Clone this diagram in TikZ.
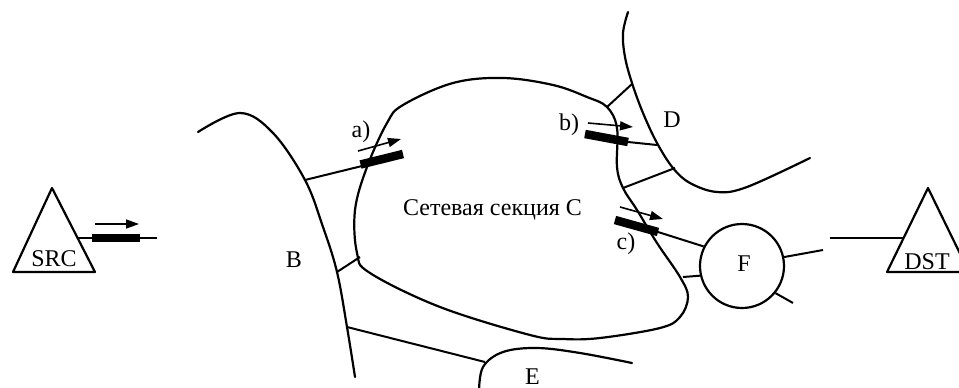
\documentclass[tikz,border=0pt]{standalone}
\usepackage{fontspec}
\setmainfont{Liberation Serif}
\usetikzlibrary{arrows.meta}
\begin{document}
\begin{tikzpicture}[x=1pt,y=-1pt,
  curve/.style={line width=2.2pt, line cap=round, line join=round},
  link/.style={line width=2pt},
  bar/.style={line width=8.5pt},
  flow/.style={line width=1.6pt, -{Triangle[length=13pt,width=9pt]}},
  lbl/.style={font=\fontsize{24}{26}\selectfont, inner sep=0pt, anchor=base},
]
\useasboundingbox (0,0) rectangle (959,388);

% SRC
\coordinate (srcA) at (52,188);
\coordinate (srcL) at (13,272);
\coordinate (srcR) at (95,272);
\draw[curve] (srcA) -- (srcL) -- (srcR) -- cycle;
\node[lbl] (src) at (54,266) {SRC};
\coordinate (s1) at (78,238);
\coordinate (s2) at (157,238);
\coordinate (sb1) at (92,238);
\coordinate (sb2) at (140,238);
\draw[link] (s1) -- (s2);
\draw[bar] (sb1) -- (sb2);
\coordinate (sa1) at (95,224);
\coordinate (sa2) at (139,224);
\draw[flow] (sa1) -- (sa2);

% DST
\coordinate (dstA) at (928,188);
\coordinate (dstL) at (887,272);
\coordinate (dstR) at (969,272);
\draw[curve] (dstA) -- (dstL) -- (dstR) -- cycle;
\node[lbl] (dst) at (927,269) {DST};
\coordinate (d1) at (830,238);
\coordinate (d2) at (903.6,238);
\draw[link] (d1) -- (d2);

% B
\draw[curve] plot[smooth, tension=0.6] coordinates {(198,132) (240,113) (273,133) (305,180) (323,227) (337,272) (347,327) (355,377)};
\node[lbl] (B) at (294,267) {B};

% C
\draw[curve] plot[smooth cycle, tension=0.6] coordinates {
 (403,105) (453,83) (503,78) (553,85) (587,97) (607,107) (617,128)
 (617,167) (623,188) (637,210) (657,243) (680,277) (688,297) (680,317)
 (660,328) (600,338) (563,339) (530,335) (440,307) (370,273) (357,253)
 (355,210) (367,167) (387,123)};
\node[lbl] (C) at (492.5,215.5) {Сетевая секция С};

% D
\draw[curve] plot[smooth, tension=0.6] coordinates {(628,12) (623,33) (625,57) (632,83) (643,113) (657,143) (673,168) (690,183) (717,192) (747,187) (810,158)};
\node[lbl] (D) at (672,127) {D};

% E
\draw[curve] plot[smooth, tension=0.6] coordinates {(479,392) (483,367) (503,352) (537,348) (580,353) (632,363)};
\node[lbl] (E) at (532.5,384) {E};

% F
\node[circle, draw, line width=2.2pt, minimum size=84pt, inner sep=0pt] (F) at (742,266) {};
\node[lbl] (Fl) at (744,271.5) {F};

% connectors B-C, B-E
\coordinate (ba) at (305,180);
\coordinate (ca) at (362,166);
\draw[link] (ba) -- (ca);
\coordinate (ab1) at (360.5,164.5);
\coordinate (ab2) at (403,154);
\draw[bar] (ab1) -- (ab2);
\coordinate (aa1) at (358,151);
\coordinate (aa2) at (401,139);
\draw[flow] (aa1) -- (aa2);
\node[lbl] (la) at (361,137) {a)};

\coordinate (bb) at (337,272);
\coordinate (cb) at (360,257);
\draw[link] (bb) -- (cb);

\coordinate (be) at (347,327);
\coordinate (eb) at (485,362);
\draw[link] (be) -- (eb);

% connectors C-D
\coordinate (cd1) at (607,107);
\coordinate (dc1) at (632,84);
\draw[link] (cd1) -- (dc1);
\coordinate (bb1) at (585,134);
\coordinate (bb2) at (628,142);
\coordinate (dc2) at (657,145);
\draw[link] (bb2) -- (dc2);
\draw[bar] (bb1) -- (bb2);
\coordinate (ba1) at (588,123);
\coordinate (ba2) at (633,127);
\draw[flow] (ba1) -- (ba2);
\node[lbl] (lb) at (569,130) {b)};
\coordinate (cd3) at (623,188);
\coordinate (dc3) at (675,168);
\draw[link] (cd3) -- (dc3);

% connectors C-F
\coordinate (cb1) at (615,220);
\coordinate (cb2) at (658,232);
\draw[link] (cb2) -- (F.153);
\draw[bar] (cb1) -- (cb2);
\coordinate (ca1) at (620,207);
\coordinate (ca2) at (663,219);
\draw[flow] (ca1) -- (ca2);
\node[lbl] (lc) at (626,249) {c)};
\coordinate (cf) at (683,277);
\draw[link] (cf) -- (F.193);

% F outer
\coordinate (f1) at (823,250);
\draw[link] (F.12) -- (f1);
\coordinate (f2) at (793,303);
\draw[link] (F.321) -- (f2);
\end{tikzpicture}
\end{document}
